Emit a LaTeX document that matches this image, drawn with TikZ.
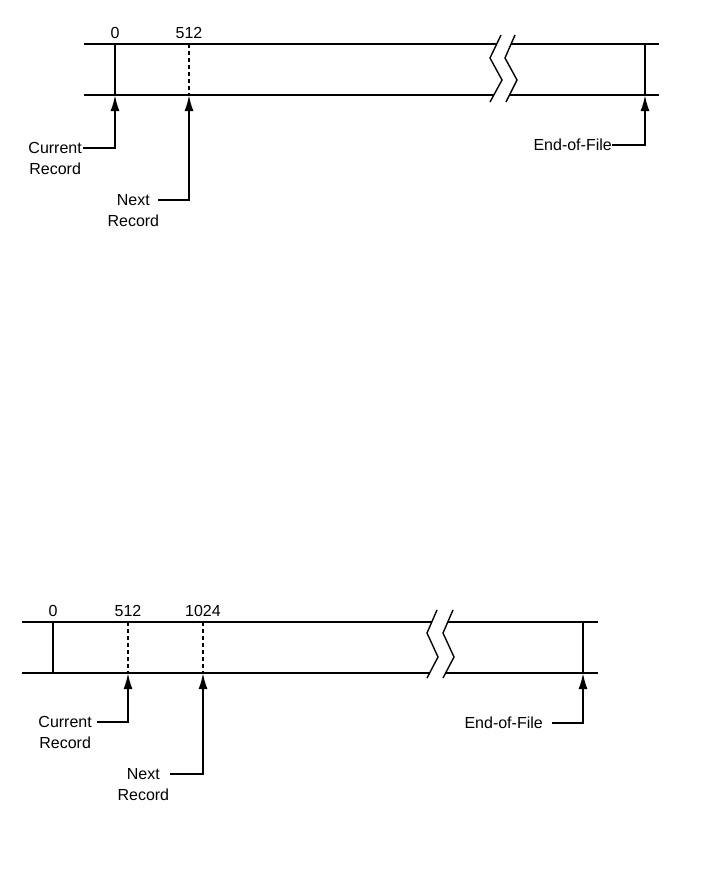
\documentclass[tikz,border=0pt]{standalone}
\usepackage{fontspec}
\setmainfont{Liberation Sans}
\usetikzlibrary{positioning, arrows.meta}
\tikzset{
    rail/.style={line width=2pt},
    brk/.style={line width=1.4pt},
    solidmark/.style={line width=1.6pt},
    dashmark/.style={line width=1.6pt, dash pattern=on 4pt off 3pt},
    ptr/.style={line width=2pt, -{Latex[length=16pt,width=9pt]}},
    lbl/.style={inner sep=0pt, font=\fontsize{16}{19}\selectfont},
    num/.style={inner sep=0pt, font=\fontsize{16}{19}\selectfont},
}

\begin{document}
\begin{tikzpicture}[x=1pt, y=-1pt, node distance=9pt]
\useasboundingbox (0,0) rectangle (701,876);
% first file
\draw[rail] (84,44) -- (496.7,44) (511,44) -- (659,44);
\draw[rail] (84,95) -- (493.8,95) (509.5,95) -- (659,95);
\draw[brk] (501,35) -- (490,58) -- (502,80) -- (490,102);
\draw[brk] (515,35) -- (505,58) -- (517,80) -- (506,102);
\coordinate (a0t) at (115,44);   \coordinate (a0b) at (115,95);
\coordinate (a512t) at (189,44); \coordinate (a512b) at (189,95);
\coordinate (aeoft) at (645,44); \coordinate (aeofb) at (645,95);
\draw[solidmark] (a0t) -- (a0b);
\draw[dashmark] (a512t) -- (a512b);
\draw[solidmark] (aeoft) -- (aeofb);
\node[num, above=5pt of a0t] (a0) {0};
\node[num, above=5pt of a512t] (a512) {512};
\coordinate (acur) at (83,148);
\node[lbl, left=1pt of acur] (acurA) {Current};
\node[lbl, below=of acurA] (acurB) {Record};
\draw[ptr] (acur) -| (a0b);
\coordinate (anxt) at (158,200);
\node[lbl, left=8pt of anxt] (anxtA) {Next};
\node[lbl, below=of anxtA] (anxtB) {Record};
\draw[ptr] (anxt) -| (a512b);
\coordinate (aeofl) at (612,145);
\node[lbl, left=0pt of aeofl] (aeof) {End-of-File};
\draw[ptr] (aeofl) -| (aeofb);
% second file
\draw[rail] (22,622) -- (431.8,622) (447.8,622) -- (598,622);
\draw[rail] (22,673) -- (429.6,673) (445.6,673) -- (598,673);
\draw[brk] (437,610) -- (427,633) -- (438,657) -- (427,678);
\draw[brk] (453,610) -- (443,633) -- (454,657) -- (443,678);
\coordinate (b0t) at (53,622);     \coordinate (b0b) at (53,673);
\coordinate (b512t) at (128,622);  \coordinate (b512b) at (128,673);
\coordinate (b1024t) at (203,622); \coordinate (b1024b) at (203,673);
\coordinate (beoft) at (583,622);  \coordinate (beofb) at (583,673);
\draw[solidmark] (b0t) -- (b0b);
\draw[dashmark] (b512t) -- (b512b);
\draw[dashmark] (b1024t) -- (b1024b);
\draw[solidmark] (beoft) -- (beofb);
\node[num, above=5pt of b0t] (b0) {0};
\node[num, above=5pt of b512t] (b512) {512};
\node[num, above=5pt of b1024t] (b1024) {1024};
\coordinate (bcur) at (97,722);
\node[lbl, left=5pt of bcur] (bcurA) {Current};
\node[lbl, below=of bcurA] (bcurB) {Record};
\draw[ptr] (bcur) -| (b512b);
\coordinate (bnxt) at (170,774);
\node[lbl, left=10pt of bnxt] (bnxtA) {Next};
\node[lbl, below=of bnxtA] (bnxtB) {Record};
\draw[ptr] (bnxt) -| (b1024b);
\coordinate (beofl) at (552,723);
\node[lbl, left=9pt of beofl] (beof) {End-of-File};
\draw[ptr] (beofl) -| (beofb);
\end{tikzpicture}
\end{document}
